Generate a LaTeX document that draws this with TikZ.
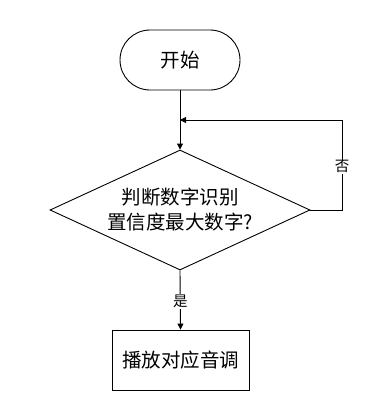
\documentclass[tikz,border=0pt]{standalone}
\usepackage{fontspec}
\setmainfont{Noto Sans CJK SC}
\usetikzlibrary{shapes.geometric,arrows.meta,positioning}
\begin{document}
\begin{tikzpicture}[x=1pt,y=-1pt,
  line width=0.9pt,
  arr/.style={-{Triangle[length=6pt,width=6pt]}},
  txt/.style={font=\fontsize{19.5}{25}\selectfont},
  lbl/.style={font=\fontsize{14.5}{16}\selectfont, fill=white, inner sep=1pt}]
\useasboundingbox (0,0) rectangle (371,410);
\node[draw, rounded corners=30pt, minimum width=120pt, minimum height=60pt, txt] (start) at (180,60) {开始};
\node[draw, diamond, aspect=2.1667, minimum width=260pt, minimum height=120pt, inner sep=0pt, align=center, txt] (dec) at (180,210) {判断数字识别\\置信度最大数字?};
\node[draw, minimum width=137pt, minimum height=60pt, txt] (play) at (180.5,360) {播放对应音调};
\coordinate (join) at (180,120);
\coordinate (c1) at (342,210);
\coordinate (c2) at (342,120);
\draw[arr] (start.south) -- (dec.north);
\draw[arr] (dec.east) -- (c1) -- node[lbl, pos=0.48] {否} (c2) -- (join);
\draw[arr] (dec.south) -- node[lbl, pos=0.52] {是} (play.north);
\end{tikzpicture}
\end{document}
